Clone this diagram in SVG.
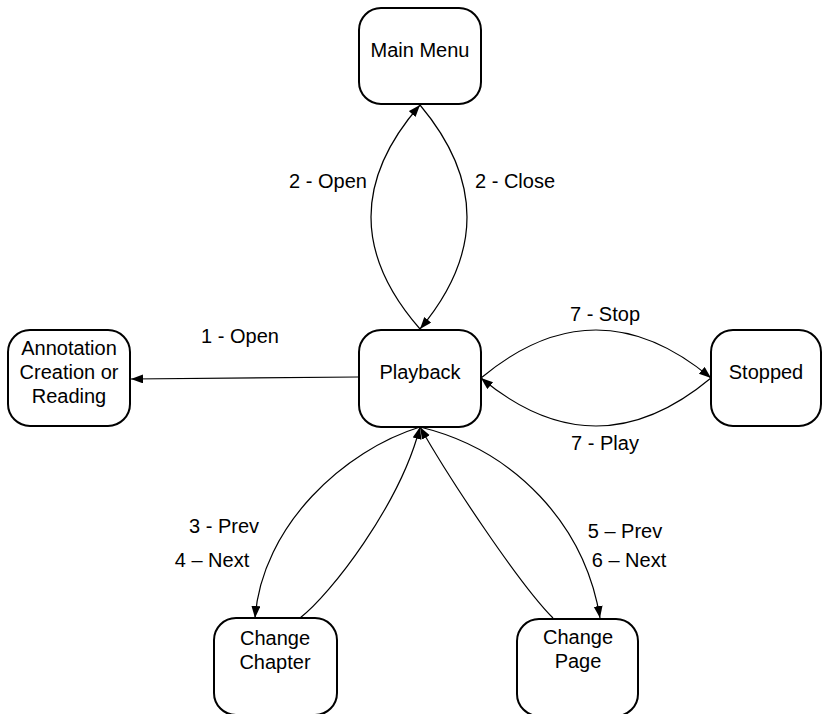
<svg xmlns="http://www.w3.org/2000/svg" width="823" height="714" viewBox="0 0 823 714">
<style>
.box{fill:#fff;stroke:#000;stroke-width:2}
.t{font-family:"Liberation Sans",Arial,sans-serif;font-size:20px;fill:#000;text-anchor:middle}
.c{fill:none;stroke:#000;stroke-width:1.2;marker-end:url(#ah)}
</style>
<defs>
<marker id="ah" markerUnits="userSpaceOnUse" markerWidth="13" markerHeight="10" refX="12" refY="4.5" orient="auto">
<path d="M0,0 L12,4.5 L0,9 z" fill="#000"/>
</marker>
</defs>
<rect width="823" height="714" fill="#fff"/>
<g id="connectors">
<path class="c" d="M358,377 L131,379"/>
<path class="c" d="M420,329 Q322,217 420,105"/>
<path class="c" d="M420,105 Q514,217 420,329"/>
<path class="c" d="M481,378 Q596,282 711,378"/>
<path class="c" d="M711,378 Q596,474 481,378"/>
<path class="c" d="M420,427 C345,450 262,525 255,618"/>
<path class="c" d="M300,618 C330,595 400,505 420,427"/>
<path class="c" d="M420,427 C515,450 585,525 600,618"/>
<path class="c" d="M553,618 C520,585 450,480 420,427"/>
</g>
<g id="labels">
<text class="t" x="328" y="188">2 - Open</text>
<text class="t" x="515" y="188">2 - Close</text>
<text class="t" x="240" y="343">1 - Open</text>
<text class="t" x="605" y="321">7 - Stop</text>
<text class="t" x="605" y="450">7 - Play</text>
<text class="t" x="224" y="533">3 - Prev</text>
<text class="t" x="212" y="567">4 – Next</text>
<text class="t" x="625" y="538">5 – Prev</text>
<text class="t" x="629" y="567">6 – Next</text>
</g>
<g id="main-menu">
<rect class="box" x="359" y="8" width="122" height="96" rx="22"/>
<text class="t" x="420" y="57">Main Menu</text>
</g>
<g id="playback">
<rect class="box" x="359" y="330" width="122" height="97" rx="22"/>
<text class="t" x="420" y="379">Playback</text>
</g>
<g id="annotation">
<rect class="box" x="8" y="330" width="122" height="96" rx="22"/>
<text class="t" x="69" y="355">Annotation</text>
<text class="t" x="69" y="379">Creation or</text>
<text class="t" x="69" y="403">Reading</text>
</g>
<g id="stopped">
<rect class="box" x="711" y="330" width="110" height="96" rx="22"/>
<text class="t" x="766" y="379">Stopped</text>
</g>
<g id="change-chapter">
<rect class="box" x="214" y="618" width="123" height="97" rx="22"/>
<text class="t" x="275" y="645">Change</text>
<text class="t" x="275" y="669">Chapter</text>
</g>
<g id="change-page">
<rect class="box" x="517" y="619" width="121" height="97" rx="22"/>
<text class="t" x="578" y="644">Change</text>
<text class="t" x="578" y="668">Page</text>
</g>
</svg>
